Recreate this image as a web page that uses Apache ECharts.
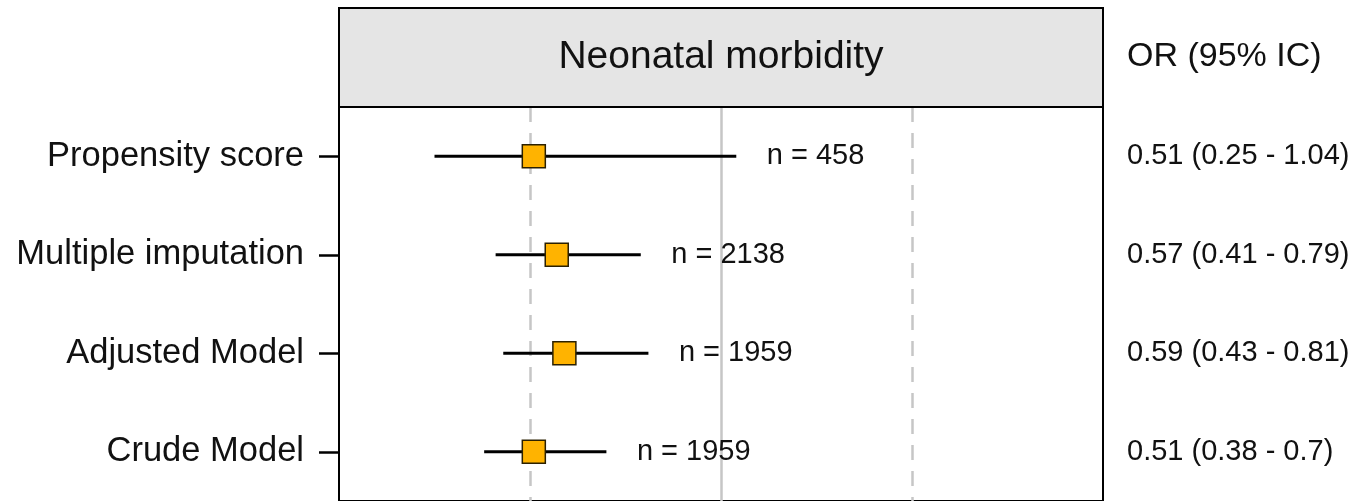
<!DOCTYPE html>
<html>
<head>
<meta charset="utf-8">
<title>Neonatal morbidity</title>
<script src="https://cdn.jsdelivr.net/npm/echarts@6/dist/echarts.min.js"></script>
<style>
  html, body { margin: 0; padding: 0; background: #fff; }
  #chart { width: 1364px; height: 501px; }
</style>
</head>
<body>
<div id="chart"></div>
<script>
// rows, listed top to bottom
const models = ['Propensity score', 'Multiple imputation', 'Adjusted Model', 'Crude Model']
const oddsRatio = [0.51, 0.57, 0.59, 0.51]
const ciLower = [0.25, 0.41, 0.43, 0.38]
const ciUpper = [1.04, 0.79, 0.81, 0.7]
const sampleSize = [458, 2138, 1959, 1959]
const refLines = [0.5, 1, 1.5]

const font = '"Liberation Sans", Arial, Helvetica, sans-serif'
const ciText = models.map((m, i) => `${oddsRatio[i]} (${ciLower[i]} - ${ciUpper[i]})`)

const chart = echarts.init(document.getElementById('chart'))

const gridLeft = 339
const gridRight = 261
const gridTop = 107
const panelWidth = 1364 - gridLeft - gridRight

const option = {
  animation: false,
  backgroundColor: '#fff',
  grid: {
    left: gridLeft,
    right: gridRight,
    top: gridTop,
    bottom: -1,
    show: true,
    borderColor: '#000',
    borderWidth: 2,
    backgroundColor: '#fff'
  },
  graphic: [
    {
      type: 'rect',
      shape: { x: gridLeft, y: 8, width: panelWidth, height: gridTop - 8 },
      style: { fill: '#e5e5e5', stroke: '#000', lineWidth: 2 },
      z: 10
    },
    {
      type: 'text',
      x: gridLeft + panelWidth / 2,
      y: 57,
      style: {
        text: 'Neonatal morbidity',
        font: '39px ' + font,
        fill: '#111',
        align: 'center',
        verticalAlign: 'middle'
      },
      z: 11
    },
    {
      type: 'text',
      x: 1127,
      y: 57,
      style: {
        text: 'OR (95% IC)',
        font: '34px ' + font,
        fill: '#111',
        align: 'left',
        verticalAlign: 'middle'
      },
      z: 11
    }
  ],
  xAxis: {
    type: 'value',
    min: 0,
    max: 2,
    show: false
  },
  yAxis: [
    {
      type: 'category',
      data: models,
      inverse: true,
      axisLine: { show: true, lineStyle: { color: '#000', width: 2 } },
      axisTick: { show: true, alignWithLabel: true, length: 20, lineStyle: { color: '#000', width: 2.5 } },
      axisLabel: { interval: 0, margin: 35, color: '#111', fontSize: 34.5, fontFamily: font },
      splitLine: { show: false }
    },
    {
      type: 'category',
      data: models,
      inverse: true,
      position: 'right',
      axisLine: { show: false },
      axisTick: { show: false },
      axisLabel: {
        interval: 0,
        margin: 24,
        color: '#111',
        fontSize: 29,
        fontFamily: font,
        formatter: (v, i) => ciText[i]
      },
      splitLine: { show: false }
    }
  ],
  series: [
    {
      name: 'ci',
      type: 'custom',
      silent: true,
      z: 3,
      data: models.map((m, i) => [ciLower[i], ciUpper[i], i]),
      renderItem: (params, api) => {
        const a = api.coord([api.value(0), api.value(2)])
        const b = api.coord([api.value(1), api.value(2)])
        return {
          type: 'line',
          shape: { x1: a[0], y1: a[1], x2: b[0], y2: b[1] },
          style: { stroke: '#000', lineWidth: 3 }
        }
      },
      markLine: {
        silent: true,
        symbol: 'none',
        label: { show: false },
        z: 1,
        data: refLines.map(v => ({
          xAxis: v,
          lineStyle: {
            color: '#c6c6c6',
            width: 2.5,
            type: v === 1 ? 'solid' : [15, 11]
          }
        }))
      }
    },
    {
      name: 'OR',
      type: 'scatter',
      silent: true,
      z: 5,
      symbol: 'rect',
      symbolSize: 23,
      itemStyle: { color: '#ffb300', borderColor: '#2b2000', borderWidth: 1.5, opacity: 1 },
      data: models.map((m, i) => [oddsRatio[i], i])
    },
    {
      name: 'n',
      type: 'scatter',
      silent: true,
      z: 4,
      symbolSize: 1,
      itemStyle: { color: 'rgba(0,0,0,0)', opacity: 1 },
      label: {
        show: true,
        position: 'right',
        distance: 30,
        color: '#111',
        opacity: 1,
        fontSize: 29,
        fontFamily: font,
        formatter: p => 'n = ' + p.value[2]
      },
      data: models.map((m, i) => [ciUpper[i], i, sampleSize[i]])
    }
  ]
}

chart.setOption(option)

window.addEventListener('resize', () => {
  chart && chart.resize()
})
</script>
</body>
</html>
